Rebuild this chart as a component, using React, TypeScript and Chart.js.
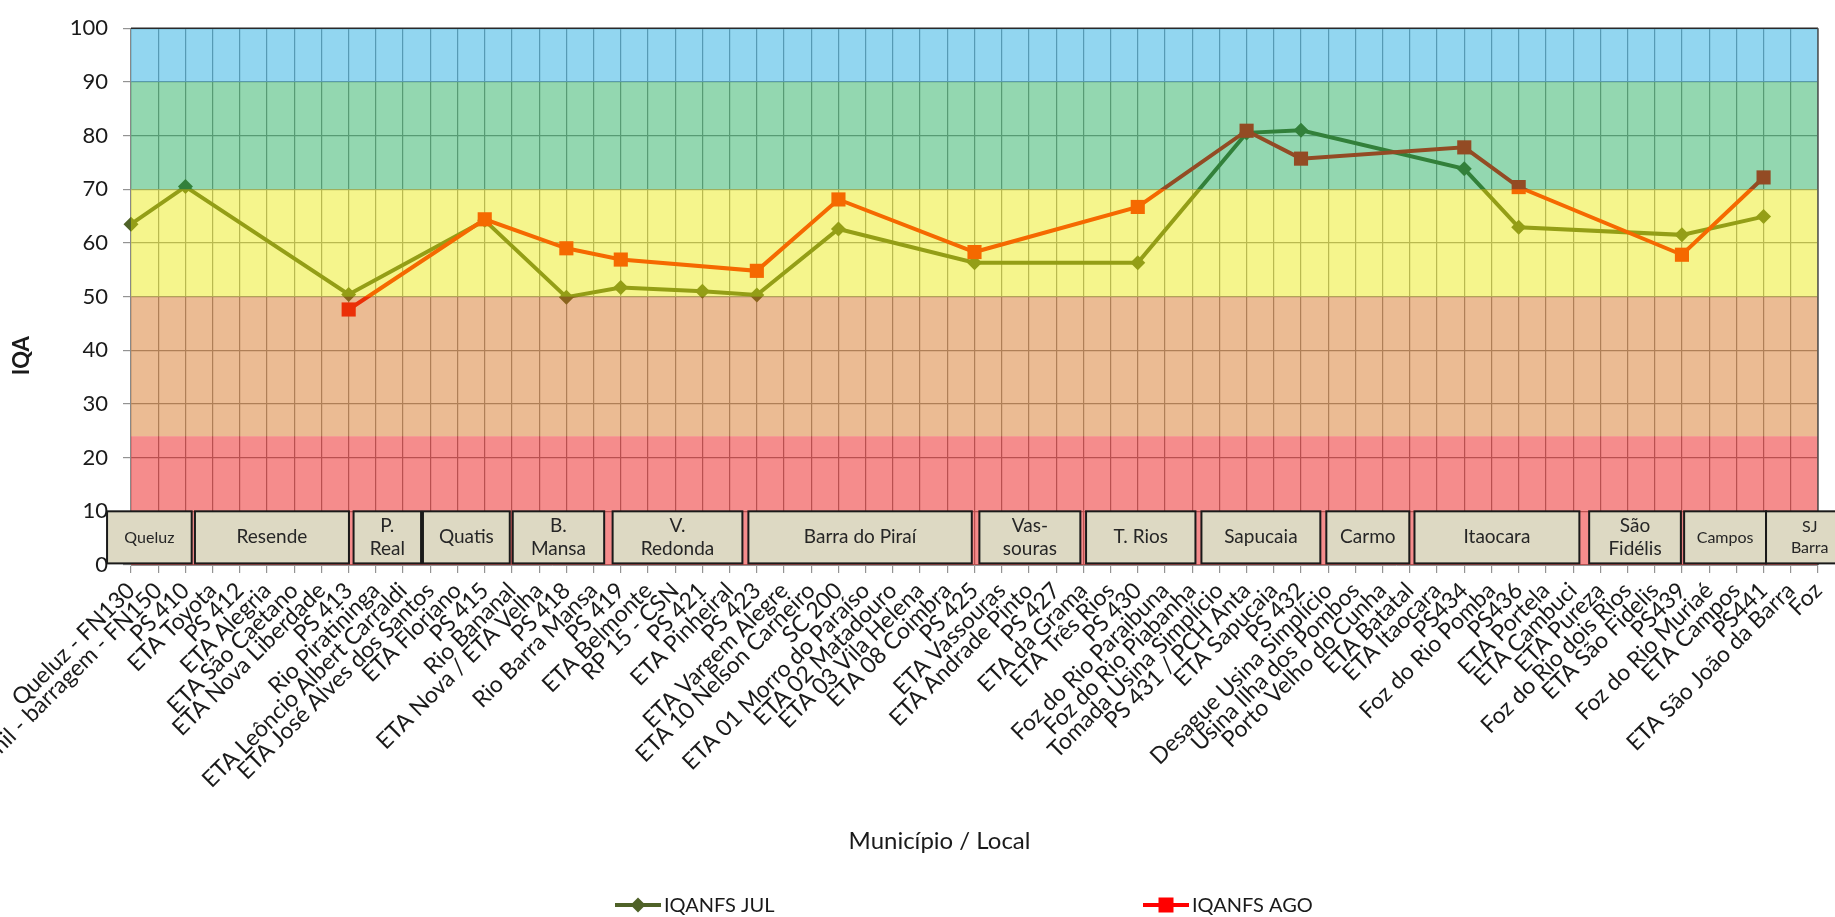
import React, { useEffect, useRef } from 'react';
import { Chart, registerables } from 'chart.js';

Chart.register(...registerables);

// ---------------- data ----------------
const categories: string[] = [
  'Queluz - FN130', 'Funil - barragem - FN150', 'PS 410', 'ETA Toyota', 'PS 412', 'ETA Alegria',
  'ETA São Caetano', 'ETA Nova Liberdade', 'PS 413', 'Rio Piratininga', 'ETA Leôncio Albert Carraldi',
  'ETA José Alves dos Santos', 'ETA Floriano', 'PS 415', 'Rio Bananal', 'ETA Nova / ETA Velha', 'PS 418',
  'Rio Barra Mansa', 'PS 419', 'ETA Belmonte', 'RP 15 - CSN', 'PS 421', 'ETA Pinheiral', 'PS 423',
  'ETA Vargem Alegre', 'ETA 10 Nelson Carneiro', 'SC 200', 'ETA 01 Morro do Paraíso', 'ETA 02 Matadouro',
  'ETA 03 Vila Helena', 'ETA 08 Coimbra', 'PS 425', 'ETA Vassouras', 'ETA Andrade Pinto', 'PS 427',
  'ETA da Grama', 'ETA Três Rios', 'PS 430', 'Foz do Rio Paraibuna', 'Foz do Rio Piabanha',
  'Tomada Usina Simplício', 'PS 431 / PCH Anta', 'ETA Sapucaia', 'PS 432', 'Desague Usina Simplício',
  'Usina Ilha dos Pombos', 'Porto Velho do Cunha', 'ETA Batatal', 'ETA Itaocara', 'PS434',
  'Foz do Rio Pomba', 'PS436', 'ETA Portela', 'ETA Cambuci', 'ETA Pureza', 'Foz do Rio dois Rios',
  'ETA São Fidelis', 'PS439', 'Foz do Rio Muriaé', 'ETA Campos', 'PS441', 'ETA São João da Barra', 'Foz',
];

const iqaJul: (number | null)[] = [
  63.5, null, 70.5, null, null, null, null, null, 50.4, null,
  null, null, null, 64.2, null, null, 49.9, null, 51.7, null,
  null, 51.0, null, 50.3, null, null, 62.6, null, null, null,
  null, 56.3, null, null, null, null, null, 56.3, null, null,
  null, 80.5, null, 81.0, null, null, null, null, null, 73.8,
  null, 62.9, null, null, null, null, null, 61.5, null, null,
  64.9, null, null,
];

const iqaAgo: (number | null)[] = [
  null, null, null, null, null, null, null, null, 47.6, null,
  null, null, null, 64.4, null, null, 59.0, null, 56.9, null,
  null, null, null, 54.8, null, null, 68.1, null, null, null,
  null, 58.3, null, null, null, null, null, 66.7, null, null,
  null, 80.9, null, 75.7, null, null, null, null, null, 77.8,
  null, 70.4, null, null, null, null, null, 57.8, null, null,
  72.2, null, null,
];

const seriesNames = ['IQANFS JUL', 'IQANFS AGO'];

// IQA class limits (bands)
const bandLimits = [0, 24, 50, 70, 90, 100];

// municipality groups, spans in category-index units
const municipios = [
  'Queluz', 'Resende', 'P.\nReal', 'Quatis', 'B.\nMansa', 'V.\nRedonda', 'Barra do Piraí',
  'Vas-\nsouras', 'T. Rios', 'Sapucaia', 'Carmo', 'Itaocara', 'São\nFidélis', 'Campos', 'SJ\nBarra',
];
const municipioFrom = [-0.88, 2.35, 8.18, 10.73, 14.03, 17.7, 22.69, 31.18, 35.1, 39.34, 43.93, 47.17, 53.59, 57.08, 60.09];
const municipioTo = [2.23, 8.01, 10.66, 13.92, 17.39, 22.47, 30.9, 34.89, 39.12, 43.71, 46.98, 53.23, 56.96, 60.09, 63.3];

// ---------------- styles ----------------
const FONT = 'Lato, "Noto Sans", sans-serif';
const bandColors = [
  'rgba(233,0,0,0.45)',
  'rgba(211,104,15,0.45)',
  'rgba(233,233,0,0.45)',
  'rgba(15,166,79,0.45)',
  'rgba(13,164,222,0.45)',
];
const smallBoxLabels = new Set(['Queluz', 'Campos', 'SJ\nBarra']);
const legendX = [615, 1143];
const legendY = 905;

const overlayPlugin = {
  id: 'iqaOverlay',
  afterDatasetsDraw(chart: any) {
    const { ctx, chartArea: a, scales } = chart;
    const x = scales.x;
    const y = scales.y;
    ctx.save();
    // translucent quality bands over the lines
    for (let i = 0; i < bandColors.length; i++) {
      const yTop = y.getPixelForValue(bandLimits[i + 1]);
      const yBot = y.getPixelForValue(bandLimits[i]);
      ctx.fillStyle = bandColors[i];
      ctx.fillRect(a.left, yTop, a.right - a.left, yBot - yTop);
    }
    // plot border top / right
    ctx.strokeStyle = '#2a2a2a';
    ctx.lineWidth = 1.5;
    ctx.beginPath();
    ctx.moveTo(a.left, a.top);
    ctx.lineTo(a.right, a.top);
    ctx.stroke();
    ctx.strokeStyle = '#555';
    ctx.beginPath();
    ctx.moveTo(a.right, a.top);
    ctx.lineTo(a.right, a.bottom);
    ctx.stroke();

    // municipality boxes
    const bTop = y.getPixelForValue(10);
    const bBot = y.getPixelForValue(0.3);
    for (let i = 0; i < municipios.length; i++) {
      const x0 = x.getPixelForValue(municipioFrom[i]);
      const x1 = x.getPixelForValue(municipioTo[i]);
      ctx.fillStyle = '#DDD9C3';
      ctx.fillRect(x0, bTop, x1 - x0, bBot - bTop);
      ctx.strokeStyle = '#1a1a1a';
      ctx.lineWidth = 2;
      ctx.strokeRect(x0, bTop, x1 - x0, bBot - bTop);
      const small = smallBoxLabels.has(municipios[i]);
      ctx.font = `${small ? 16 : 19}px ${FONT}`;
      ctx.fillStyle = '#262626';
      ctx.textAlign = 'center';
      ctx.textBaseline = 'middle';
      const lines = municipios[i].split('\n');
      const lh = small ? 21 : 23;
      const cy = (bTop + bBot) / 2;
      lines.forEach((ln, k) => {
        ctx.fillText(ln, (x0 + x1) / 2, cy + (k - (lines.length - 1) / 2) * lh);
      });
    }
    ctx.restore();
  },
  afterDraw(chart: any) {
    const { ctx, chartArea: a } = chart;
    ctx.save();
    // axis titles
    ctx.fillStyle = '#1a1a1a';
    ctx.textAlign = 'center';
    ctx.textBaseline = 'middle';
    ctx.font = `24px ${FONT}`;
    ctx.fillText('Município / Local', (a.left + a.right) / 2 - 35, 841);
    ctx.save();
    ctx.translate(22, a.top + (a.bottom - a.top) * 0.61);
    ctx.rotate(-Math.PI / 2);
    ctx.font = `bold 22px ${FONT}`;
    ctx.fillText('IQA', 0, 0);
    ctx.restore();

    // legend
    chart.data.datasets.forEach((ds: any, i: number) => {
      const x0 = legendX[i];
      ctx.strokeStyle = ds.borderColor;
      ctx.fillStyle = ds.borderColor;
      ctx.lineWidth = 4;
      ctx.beginPath();
      ctx.moveTo(x0, legendY);
      ctx.lineTo(x0 + 46, legendY);
      ctx.stroke();
      const cx = x0 + 23;
      ctx.beginPath();
      if (ds.pointStyle === 'rectRot') {
        const r = 7.5;
        ctx.moveTo(cx, legendY - r);
        ctx.lineTo(cx + r, legendY);
        ctx.lineTo(cx, legendY + r);
        ctx.lineTo(cx - r, legendY);
        ctx.closePath();
      } else {
        ctx.rect(cx - 7.5, legendY - 7.5, 15, 15);
      }
      ctx.fill();
      ctx.fillStyle = '#1a1a1a';
      ctx.font = `20px ${FONT}`;
      ctx.textAlign = 'left';
      ctx.textBaseline = 'middle';
      ctx.fillText(ds.label, x0 + 49, legendY + 1);
    });
    ctx.restore();
  },
};

export default function App() {
  const canvasRef = useRef<HTMLCanvasElement | null>(null);

  useEffect(() => {
    document.body.style.margin = '0';
    let chart: Chart | null = null;
    let cancelled = false;
    const fontsReady = (document as any).fonts
      ? Promise.all([
          (document as any).fonts.load('20px Lato'),
          (document as any).fonts.load('bold 22px Lato'),
        ]).catch(() => null)
      : Promise.resolve(null);

    fontsReady.then(() => {
      if (cancelled || !canvasRef.current) return;
      chart = new Chart(canvasRef.current, {
        type: 'line',
        data: {
          labels: categories,
          datasets: [
            {
              label: seriesNames[0],
              data: iqaJul,
              borderColor: '#4F6228',
              backgroundColor: '#4F6228',
              borderWidth: 4,
              pointStyle: 'rectRot',
              pointRadius: 7.5,
              pointHoverRadius: 7.5,
              pointBorderWidth: 0,
              spanGaps: true,
              tension: 0,
              clip: false as any,
              order: 2,
            },
            {
              label: seriesNames[1],
              data: iqaAgo,
              borderColor: '#FF0000',
              backgroundColor: '#FF0000',
              borderWidth: 4,
              pointStyle: 'rect',
              pointRadius: 10,
              pointHoverRadius: 10,
              pointBorderWidth: 0,
              spanGaps: true,
              tension: 0,
              clip: false as any,
              order: 1,
            },
          ],
        },
        options: {
          responsive: false,
          animation: false,
          events: [],
          layout: { padding: { top: 22, left: 0, right: 17, bottom: 0 } },
          plugins: {
            legend: { display: false },
            tooltip: { enabled: false },
            title: { display: false },
          },
          scales: {
            x: {
              type: 'category',
              offset: false,
              grid: { color: '#939393', lineWidth: 1.2, tickLength: 8, offset: false },
              border: { display: true, color: '#939393', width: 1 },
              ticks: {
                autoSkip: false,
                maxRotation: 45,
                minRotation: 45,
                padding: 4,
                color: '#1a1a1a',
                font: { family: FONT, size: 23 },
              },
              afterFit: (s: any) => {
                s.height = 352;
                s.paddingLeft = 0;
                s.paddingRight = 0;
              },
            },
            y: {
              min: 0,
              max: 100,
              grid: { color: '#939393', lineWidth: 1.2, tickLength: 8 },
              border: { display: true, color: '#888', width: 1.2 },
              ticks: {
                stepSize: 10,
                padding: 15,
                color: '#1a1a1a',
                font: { family: FONT, size: 22 },
              },
              afterFit: (s: any) => {
                s.width = 131;
              },
            },
          },
        },
        plugins: [overlayPlugin],
      });
    });

    return () => {
      cancelled = true;
      if (chart) chart.destroy();
    };
  }, []);

  return (
    <div style={{ width: 1835, height: 917, position: 'relative', background: '#fff' }}>
      <canvas ref={canvasRef} width={1835} height={917} style={{ display: 'block' }} />
    </div>
  );
}
